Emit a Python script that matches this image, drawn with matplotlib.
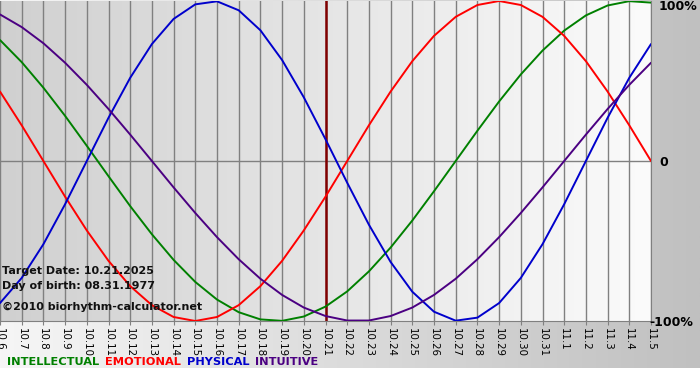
import numpy as np
import matplotlib
matplotlib.use("Agg")
import matplotlib.pyplot as plt
from matplotlib.colors import LinearSegmentedColormap

# ---- data (-1..1 = -100%..100%) ----
dates = ["10.6", "10.7", "10.8", "10.9", "10.10", "10.11", "10.12", "10.13", "10.14",
         "10.15", "10.16", "10.17", "10.18", "10.19", "10.20", "10.21", "10.22", "10.23",
         "10.24", "10.25", "10.26", "10.27", "10.28", "10.29", "10.30", "10.31",
         "11.1", "11.2", "11.3", "11.4", "11.5"]

physical = [-0.888, -0.731, -0.520, -0.270, 0.000, 0.270, 0.520, 0.731, 0.888, 0.979,
            0.998, 0.942, 0.817, 0.631, 0.398, 0.136, -0.136, -0.398, -0.631, -0.817,
            -0.942, -0.998, -0.979, -0.888, -0.731, -0.520, -0.270, 0.000, 0.270, 0.520,
            0.731]
emotional = [0.434, 0.223, 0.000, -0.223, -0.434, -0.624, -0.782, -0.901, -0.975, -1.000,
             -0.975, -0.901, -0.782, -0.624, -0.434, -0.223, 0.000, 0.223, 0.434, 0.624,
             0.782, 0.901, 0.975, 1.000, 0.975, 0.901, 0.782, 0.624, 0.434, 0.223,
             0.000]
intellectual = [0.756, 0.618, 0.458, 0.282, 0.095, -0.095, -0.282, -0.458, -0.618, -0.756,
                -0.866, -0.945, -0.990, -0.999, -0.972, -0.910, -0.815, -0.690, -0.541, -0.372,
                -0.189, 0.000, 0.189, 0.372, 0.541, 0.690, 0.815, 0.910, 0.972, 0.999,
                0.990]
intuitive = [0.916, 0.837, 0.736, 0.614, 0.476, 0.325, 0.165, 0.000, -0.165, -0.325,
             -0.476, -0.614, -0.736, -0.837, -0.916, -0.969, -0.997, -0.997, -0.969, -0.916,
             -0.837, -0.736, -0.614, -0.476, -0.325, -0.165, 0.000, 0.165, 0.325, 0.476,
             0.614]
target_date = "10.21"

series_names = ["INTELLECTUAL", "EMOTIONAL", "PHYSICAL", "INTUITIVE"]
series_colors = ["#008000", "#ff0000", "#0000cc", "#4b0082"]

W, H = 700, 380
fig = plt.figure(figsize=(W / 100, H / 100), dpi=100)

# outer background gradient (white-ish left -> gray right), white strip at bottom
bg = fig.add_axes([0, 12 / H, 1, 1 - 12 / H])
bg.set_axis_off()
cmap_bg = LinearSegmentedColormap.from_list("bg", ["#f6f6f6", "#c0c0c0"])
bg.imshow(np.linspace(0, 1, 256)[None, :], aspect="auto", cmap=cmap_bg,
          extent=[0, 1, 0, 1])
bg.set_xlim(0, 1)
bg.set_ylim(0, 1)

# plot axes
left_px, right_px, top_px, bottom_px = 0, 651, 1, 321
ax = fig.add_axes([left_px / W, 1 - bottom_px / H, (right_px - left_px) / W,
                   (bottom_px - top_px) / H])
x = np.arange(len(dates))
ax.set_xlim(0, len(dates) - 1)
ax.set_ylim(-1.0, 1.0)

cmap_plot = LinearSegmentedColormap.from_list("pl", ["#d0d0d0", "#fbfbfb"])
ax.imshow(np.linspace(0, 1, 256)[None, :], aspect="auto", cmap=cmap_plot,
          extent=[0, len(dates) - 1, -1.0, 1.0], zorder=0)

for xi in x:
    ax.axvline(xi, color="#808080", lw=1.0, zorder=1)
ax.axhline(0, color="#808080", lw=1.0, zorder=1)
ax.axvline(dates.index(target_date), color="#800000", lw=1.8, zorder=2)

for vals, c in zip([intellectual, emotional, physical, intuitive], series_colors):
    ax.plot(x, vals, color=c, lw=1.4, zorder=3, solid_capstyle="round",
            solid_joinstyle="round")

for s in ["top", "left"]:
    ax.spines[s].set_visible(False)
ax.spines["bottom"].set_color("#808080")
ax.spines["right"].set_color("#808080")

ax.set_xticks(x)
ax.set_xticklabels(dates, rotation=270, fontsize=7.4, color="black")
ax.tick_params(axis="x", length=3, color="#808080", pad=2)
ax.set_yticks([])

# right-side percent labels
fig.text(659 / W, 1 - 7 / H, "100%", fontsize=9, fontweight="bold", va="center", ha="left")
fig.text(659 / W, 1 - 162 / H, "0", fontsize=9, fontweight="bold", va="center", ha="left")
fig.text(649 / W, 1 - 322 / H, "-100%", fontsize=9, fontweight="bold", va="center", ha="left")

# info text
info_kw = dict(fontsize=8.0, fontweight="bold", color="#111111", va="center", ha="left")
fig.text(2 / W, 1 - 271 / H, "Target Date: 10.21.2025", **info_kw)
fig.text(2 / W, 1 - 286 / H, "Day of birth: 08.31.1977", **info_kw)
fig.text(2 / W, 1 - 307 / H, "\u00a92010 biorhythm-calculator.net", **info_kw)

# legend text
xpos = 7
renderer = fig.canvas.get_renderer()
for name, c in zip(series_names, series_colors):
    t = fig.text(xpos / W, 1 - 362 / H, name, fontsize=8.2, fontweight="bold",
                 color=c, va="center", ha="left")
    bb = t.get_window_extent(renderer=renderer)
    xpos += bb.width + 6

fig.savefig("out.png", dpi=100)
